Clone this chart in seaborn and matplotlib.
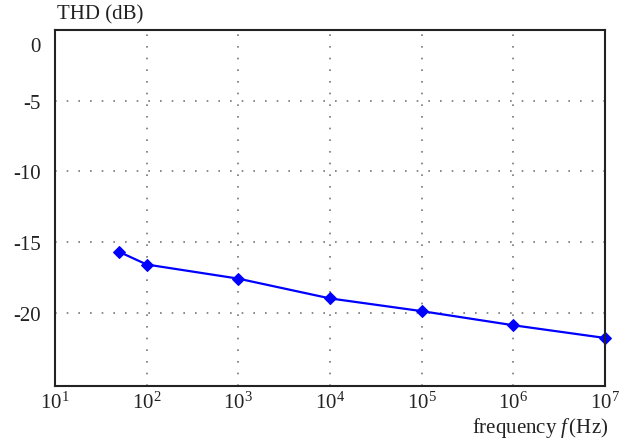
import pandas as pd
import matplotlib
matplotlib.use("Agg")
import matplotlib.pyplot as plt
import matplotlib.transforms as mtransforms
import seaborn as sns
import numpy as np


freq_hz = [50, 100, 1e3, 1e4, 1e5, 1e6, 1e7]
thd_db = [-15.7, -16.6, -17.6, -19.0, -19.9, -20.9, -21.8]
y_ticks = [0, -5, -10, -15, -20]
x_exps = [1, 2, 3, 4, 5, 6, 7]

sns.set_style("white")
plt.rcParams['font.family'] = ['Liberation Serif', 'DejaVu Serif']
plt.rcParams['mathtext.fontset'] = 'custom'
plt.rcParams['mathtext.rm'] = 'Liberation Serif'
plt.rcParams['mathtext.it'] = 'Liberation Serif:italic'

df = pd.DataFrame({'freq': freq_hz, 'thd': thd_db})

fig = plt.figure(figsize=(6.29, 4.39), dpi=100)
ax = fig.add_axes([55/629, 1-387/439, 550/629, 356/439])

sns.lineplot(data=df, x='freq', y='thd', ax=ax, color='#0000ff', lw=1.6,
             marker='D', markersize=6.5, markeredgecolor='#0000ff', clip_on=False)

ax.set_xscale('log')
ax.set_xlim(10, 1e7)
ax.set_ylim(-25.2, 0)
ax.set_xticks([10.0**e for e in x_exps])
ax.set_xticklabels([f"$10^{{{e}}}$" for e in x_exps])
ax.minorticks_off()
ax.set_yticks(y_ticks)
ax.set_yticklabels([str(v) for v in y_ticks])
ax.tick_params(length=0, labelsize=15, colors='#222222')
ax.tick_params(axis='y', pad=10)
ax.tick_params(axis='x', pad=4)

# the "0" label sits a bit below the top edge in the original
lbl0 = ax.get_yticklabels()[0]
lbl0.set_transform(lbl0.get_transform() + mtransforms.ScaledTranslation(0, -14/100, fig.dpi_scale_trans))

ax.grid(True, which='major', color='#777777', linestyle=(0, (1, 6)), lw=1.2)
for s in ax.spines.values():
    s.set_color('#222222')
    s.set_linewidth(1.5)

ax.set_xlabel('')
ax.set_ylabel('')
fig.text(57/629, 1-15/439, 'THD (dB)', ha='left', va='center', fontsize=15, color='#222222')
fig.text(608/629, 1-428/439, r'frequency $f\,$(Hz)', ha='right', va='center', fontsize=15, color='#222222')

fig.savefig('out.png', dpi=100)
